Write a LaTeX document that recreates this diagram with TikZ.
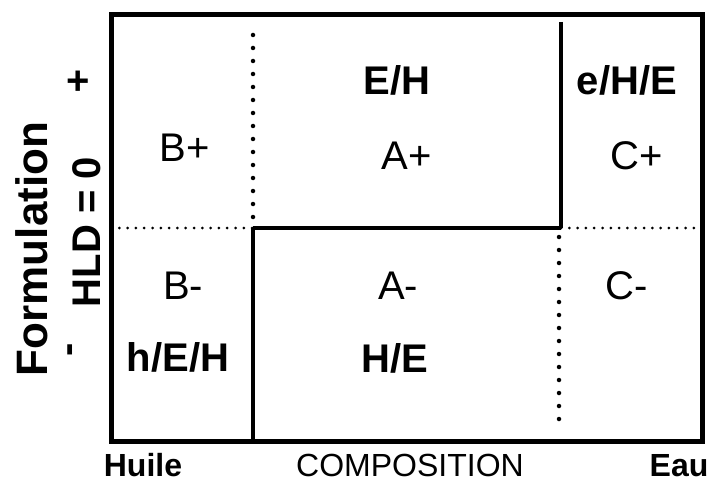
\documentclass[tikz,border=0pt]{standalone}
\usepackage{fontspec}
\setmainfont{Liberation Sans}
\begin{document}
\begin{tikzpicture}[x=1pt,y=-1pt,
  frame/.style={line width=5pt},
  solidline/.style={line width=3.5pt},
  vdots/.style={line width=4.5pt,line cap=round,dash pattern=on 0pt off 13pt},
  hdots/.style={line width=3pt,line cap=round,dash pattern=on 0pt off 8.3pt},
  lbl/.style={anchor=base,inner sep=0pt,font=\fontsize{40}{48}\selectfont},
  blbl/.style={anchor=base,inner sep=0pt,font=\fontsize{40}{48}\selectfont\bfseries},
  axlbl/.style={anchor=base,inner sep=0pt,font=\fontsize{32}{38}\selectfont\bfseries},
  axreg/.style={anchor=base,inner sep=0pt,font=\fontsize{32}{38}\selectfont}]
\useasboundingbox (0,0) rectangle (712,484);
% grid coordinates
\coordinate (TL) at (111,15);
\coordinate (BR) at (702,441);
\coordinate (ML) at (111,228);
\coordinate (MA) at (253,228);
\coordinate (MB) at (561,228);
\coordinate (MR) at (702,228);
\coordinate (TA) at (253,35);
\coordinate (BA) at (253,441);
\coordinate (TB) at (561,22);
\coordinate (DB1) at (559,237);
\coordinate (DB2) at (559,428);
% frame and partitions
\draw[frame] (TL) rectangle (BR);
\draw[hdots] (ML) -- (MA);
\draw[solidline] (MA) -- (MB);
\draw[hdots] (MB) -- (MR);
\draw[vdots] (TA) -- (MA);
\draw[solidline] (MA) -- (BA);
\draw[solidline] (TB) -- (MB);
\draw[vdots] (DB1) -- (DB2);
% region labels
\node[blbl] (eh) at (397,95) {E/H};
\node[lbl] (ap) at (407,169) {A+};
\node[blbl] (ehe) at (627,95) {e/H/E};
\node[lbl] (cp) at (637,169) {C+};
\node[lbl] (bp) at (185,161) {B+};
\node[lbl] (bm) at (183,299) {B-};
\node[blbl] (heh) at (178,371) {h/E/H};
\node[lbl] (am) at (398,299) {A-};
\node[blbl] (he) at (395,372) {H/E};
\node[lbl] (cm) at (627,299) {C-};
% axis labels
\node[axlbl] (huile) at (143,476) {Huile};
\node[axreg] (comp) at (410,476) {COMPOSITION};
\node[axlbl] (eau) at (679,476) {Eau};
\node[anchor=base,inner sep=0pt,rotate=90,font=\fontsize{44}{50}\selectfont\bfseries] (form) at (47,249) {Formulation};
\node[anchor=base,inner sep=0pt,rotate=90,font=\fontsize{40}{48}\selectfont\bfseries] (hld) at (100,232) {HLD = 0};
\node[inner sep=0pt,font=\fontsize{40}{48}\selectfont\bfseries] (plus) at (78,83) {+};
\node[inner sep=0pt,rotate=90,font=\fontsize{40}{48}\selectfont\bfseries] (minus) at (74,350) {-};
\end{tikzpicture}
\end{document}
